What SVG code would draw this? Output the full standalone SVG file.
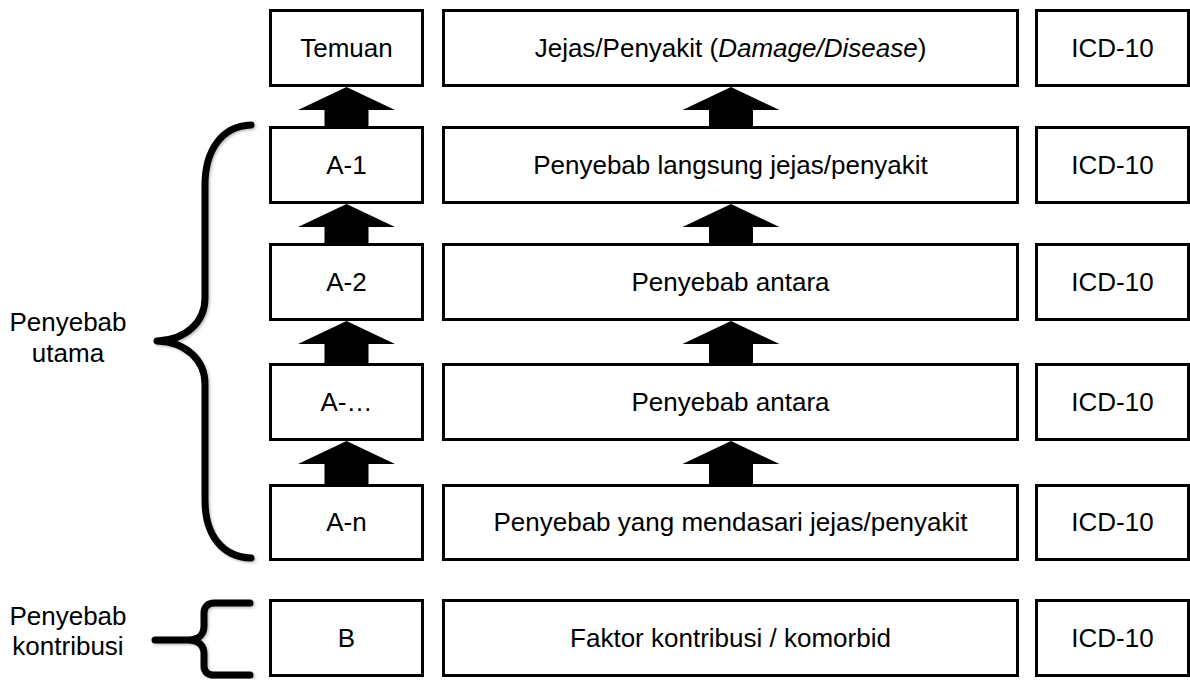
<svg xmlns="http://www.w3.org/2000/svg" width="1190" height="681" viewBox="0 0 1190 681">
  <style>
    .box { fill: #ffffff; stroke: #000000; stroke-width: 3; }
    .lbl { font-family: "Liberation Sans", Arial, sans-serif; font-size: 26px; fill: #000000; text-anchor: middle; }
    .arrow { fill: #000000; stroke: none; }
    .brace { fill: none; stroke: #000000; stroke-width: 7; stroke-linecap: round; stroke-linejoin: round; }
  </style>
  <defs>
    <filter id="soft" x="-20%" y="-5%" width="140%" height="110%">
      <feDropShadow dx="1.5" dy="1.5" stdDeviation="1.2" flood-color="#000000" flood-opacity="0.25"/>
    </filter>
  </defs>
  <rect width="1190" height="681" fill="#ffffff"/>

  <!-- upward block arrows between the rows -->
  <g id="connectors">
    <polygon class="arrow" points="346.5,87 395,110 368.5,110 368.5,127 324.5,127 324.5,110 298,110"/>
    <polygon class="arrow" points="731,87 779.5,110 753,110 753,127 709,127 709,110 682.5,110"/>
    <polygon class="arrow" points="346.5,204 395,227 368.5,227 368.5,244 324.5,244 324.5,227 298,227"/>
    <polygon class="arrow" points="731,204 779.5,227 753,227 753,244 709,244 709,227 682.5,227"/>
    <polygon class="arrow" points="346.5,321 395,344 368.5,344 368.5,364 324.5,364 324.5,344 298,344"/>
    <polygon class="arrow" points="731,321 779.5,344 753,344 753,364 709,364 709,344 682.5,344"/>
    <polygon class="arrow" points="346.5,441 395,464 368.5,464 368.5,485 324.5,485 324.5,464 298,464"/>
    <polygon class="arrow" points="731,441 779.5,464 753,464 753,485 709,485 709,464 682.5,464"/>
  </g>

  <!-- row: finding -->
  <g id="temuan">
    <rect class="box" x="270.5" y="10.5" width="152" height="75"/>
    <text class="lbl" x="346.5" y="57">Temuan</text>
  </g>
  <g id="jejas">
    <rect class="box" x="443.5" y="10.5" width="574" height="75"/>
    <text class="lbl" x="730.5" y="57">Jejas/Penyakit (<tspan font-style="italic">Damage/Disease</tspan>)</text>
  </g>
  <g id="icd-0">
    <rect class="box" x="1036.5" y="10.5" width="152" height="75"/>
    <text class="lbl" x="1112.5" y="57">ICD-10</text>
  </g>

  <!-- row: A-1 -->
  <g id="a1">
    <rect class="box" x="270.5" y="127.5" width="152" height="75"/>
    <text class="lbl" x="346.5" y="174">A-1</text>
  </g>
  <g id="langsung">
    <rect class="box" x="443.5" y="127.5" width="574" height="75"/>
    <text class="lbl" x="730.5" y="174">Penyebab langsung jejas/penyakit</text>
  </g>
  <g id="icd-1">
    <rect class="box" x="1036.5" y="127.5" width="152" height="75"/>
    <text class="lbl" x="1112.5" y="174">ICD-10</text>
  </g>

  <!-- row: A-2 -->
  <g id="a2">
    <rect class="box" x="270.5" y="244.5" width="152" height="75"/>
    <text class="lbl" x="346.5" y="291">A-2</text>
  </g>
  <g id="antara-1">
    <rect class="box" x="443.5" y="244.5" width="574" height="75"/>
    <text class="lbl" x="730.5" y="291">Penyebab antara</text>
  </g>
  <g id="icd-2">
    <rect class="box" x="1036.5" y="244.5" width="152" height="75"/>
    <text class="lbl" x="1112.5" y="291">ICD-10</text>
  </g>

  <!-- row: A-... -->
  <g id="a-dots">
    <rect class="box" x="270.5" y="364.5" width="152" height="75"/>
    <text class="lbl" x="346.5" y="411">A-…</text>
  </g>
  <g id="antara-2">
    <rect class="box" x="443.5" y="364.5" width="574" height="75"/>
    <text class="lbl" x="730.5" y="411">Penyebab antara</text>
  </g>
  <g id="icd-3">
    <rect class="box" x="1036.5" y="364.5" width="152" height="75"/>
    <text class="lbl" x="1112.5" y="411">ICD-10</text>
  </g>

  <!-- row: A-n -->
  <g id="an">
    <rect class="box" x="270.5" y="485.5" width="152" height="74"/>
    <text class="lbl" x="346.5" y="531">A-n</text>
  </g>
  <g id="mendasari">
    <rect class="box" x="443.5" y="485.5" width="574" height="74"/>
    <text class="lbl" x="730.5" y="531">Penyebab yang mendasari jejas/penyakit</text>
  </g>
  <g id="icd-4">
    <rect class="box" x="1036.5" y="485.5" width="152" height="74"/>
    <text class="lbl" x="1112.5" y="531">ICD-10</text>
  </g>

  <!-- row: B -->
  <g id="b">
    <rect class="box" x="270.5" y="600.5" width="152" height="75"/>
    <text class="lbl" x="346.5" y="647">B</text>
  </g>
  <g id="kontribusi">
    <rect class="box" x="443.5" y="600.5" width="574" height="75"/>
    <text class="lbl" x="730.5" y="647">Faktor kontribusi / komorbid</text>
  </g>
  <g id="icd-5">
    <rect class="box" x="1036.5" y="600.5" width="152" height="75"/>
    <text class="lbl" x="1112.5" y="647">ICD-10</text>
  </g>

  <!-- group braces and their labels -->
  <g id="utama">
    <path class="brace" filter="url(#soft)" d="M251,125 C222,126 205,150 205,185 L205,298 C205,322 186,340 157,341 C186,342 205,360 205,384 L205,500 C205,535 222,557 251,558"/>
    <text class="lbl" x="68" y="331">Penyebab</text>
    <text class="lbl" x="68" y="362">utama</text>
  </g>
  <g id="kontribusi-label">
    <path class="brace" filter="url(#soft)" d="M250,603 L214,603 C208,603 204,607 204,613 L204,626 C204,635 198,640 188,640 L155,640 M188,640 C198,640 204,645 204,654 L204,666 C204,672 208,675 214,675 L250,675"/>
    <text class="lbl" x="68" y="625">Penyebab</text>
    <text class="lbl" x="68" y="655">kontribusi</text>
  </g>
</svg>
